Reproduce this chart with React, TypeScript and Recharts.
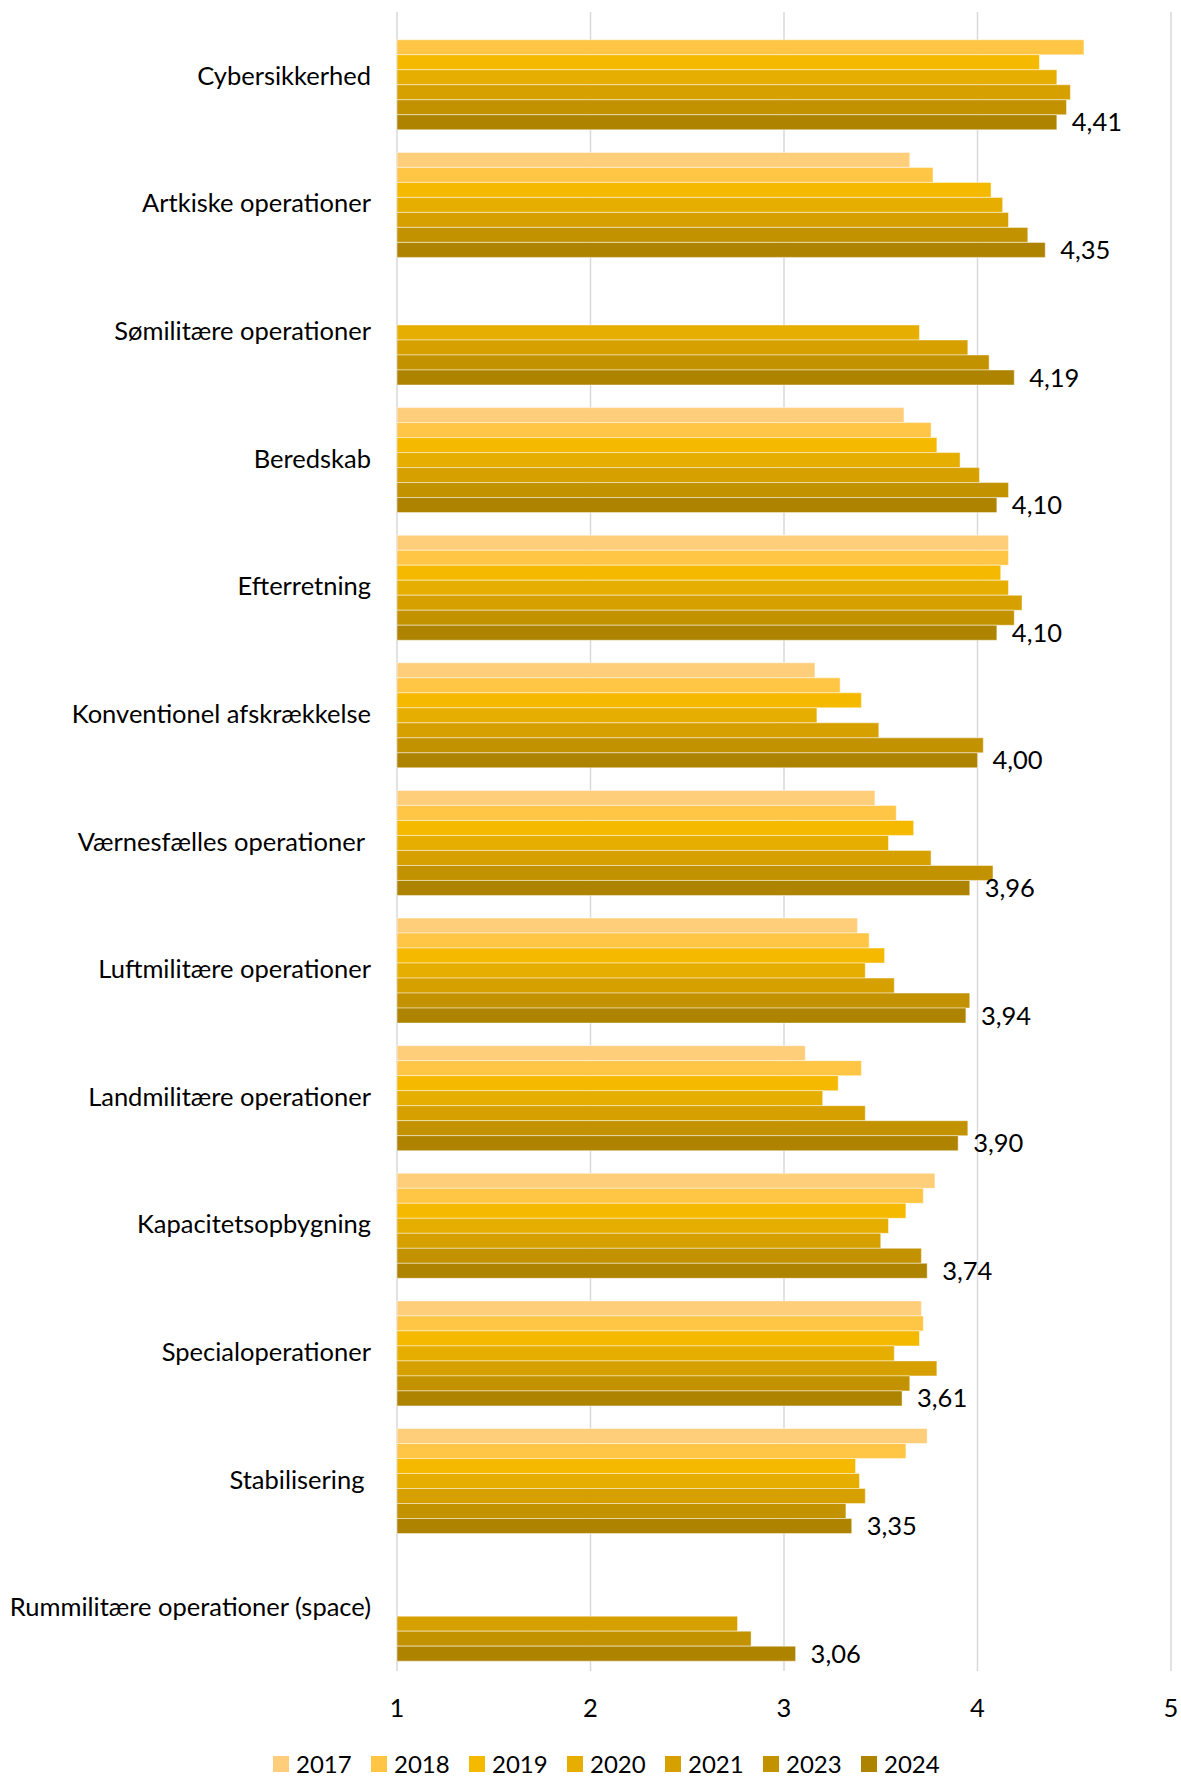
import { Bar, BarChart, CartesianGrid, LabelList, Legend, XAxis, YAxis } from "recharts";

const categories = [
  "Cybersikkerhed",
  "Artkiske operationer",
  "Sømilitære operationer",
  "Beredskab",
  "Efterretning",
  "Konventionel afskrækkelse",
  "Værnesfælles operationer\u00a0",
  "Luftmilitære operationer",
  "Landmilitære operationer",
  "Kapacitetsopbygning",
  "Specialoperationer",
  "Stabilisering\u00a0",
  "Rummilitære operationer (space)",
];

const years = ["2017", "2018", "2019", "2020", "2021", "2023", "2024"];
const colors = ["#FFCE7A", "#FFC545", "#F5BA00", "#E6AE00", "#D6A000", "#C29200", "#AE8300"];

const v2017 = [null, 3.65, null, 3.62, 4.16, 3.16, 3.47, 3.38, 3.11, 3.78, 3.71, 3.74, null];
const v2018 = [4.55, 3.77, null, 3.76, 4.16, 3.29, 3.58, 3.44, 3.4, 3.72, 3.72, 3.63, null];
const v2019 = [4.32, 4.07, null, 3.79, 4.12, 3.4, 3.67, 3.52, 3.28, 3.63, 3.7, 3.37, null];
const v2020 = [4.41, 4.13, 3.7, 3.91, 4.16, 3.17, 3.54, 3.42, 3.2, 3.54, 3.57, 3.39, null];
const v2021 = [4.48, 4.16, 3.95, 4.01, 4.23, 3.49, 3.76, 3.57, 3.42, 3.5, 3.79, 3.42, 2.76];
const v2023 = [4.46, 4.26, 4.06, 4.16, 4.19, 4.03, 4.08, 3.96, 3.95, 3.71, 3.65, 3.32, 2.83];
const v2024 = [4.41, 4.35, 4.19, 4.1, 4.1, 4.0, 3.96, 3.94, 3.9, 3.74, 3.61, 3.35, 3.06];

const xTicks = [1, 2, 3, 4, 5];

const series = [v2017, v2018, v2019, v2020, v2021, v2023, v2024];

const data = categories.map((name, i) => {
  const row: Record<string, string | number | null> = { name };
  years.forEach((y, j) => {
    row[y] = series[j][i];
  });
  return row;
});

const FONT = "Lato, 'Open Sans', sans-serif";
const FS = 25.5;

function renderLegend() {
  return (
    <div style={{ display: "flex", fontFamily: FONT, fontSize: 24, lineHeight: "22px", color: "#000" }}>
      {years.map((y, i) => (
        <div key={y} style={{ display: "flex", alignItems: "center", width: 98 }}>
          <span style={{ display: "inline-block", width: 16, height: 16, background: colors[i], marginRight: 7 }} />
          <span>{y}</span>
        </div>
      ))}
    </div>
  );
}

export default function App() {
  return (
    <div style={{ position: "absolute", left: 0, top: 0, background: "#fff" }}>
      <BarChart
        width={1181}
        height={1776}
        data={data}
        layout="vertical"
        margin={{ top: 12, right: 10, left: 0, bottom: 65 }}
        barCategoryGap="10%"
        barGap={0}
      >
        <CartesianGrid horizontal={false} stroke="#D9D9D9" strokeWidth={1.5} />
        <XAxis
          type="number"
          domain={[1, 5]}
          ticks={xTicks}
          height={40}
          axisLine={false}
          tickLine={false}
          tickMargin={22}
          tick={{ fontSize: FS, fill: "#000", fontFamily: FONT }}
        />
        <YAxis
          type="category"
          dataKey="name"
          width={397}
          axisLine={false}
          tickLine={false}
          tickMargin={20}
          interval={0}
          tick={{ fontSize: FS, fill: "#000", fontFamily: FONT }}
        />
        <Legend
          verticalAlign="middle"
          align="center"
          layout="horizontal"
          content={renderLegend}
          wrapperStyle={{ left: 273, top: 1753, width: 720, height: 22 }}
        />
        {years.map((y, i) => (
          <Bar
            key={y}
            dataKey={y}
            fill={colors[i]}
            stroke="rgba(255,255,255,0.45)"
            strokeWidth={1}
            isAnimationActive={false}
          >
            {y === "2024" && (
              <LabelList
                dataKey={y}
                position="right"
                offset={15}
                formatter={(v: number) => v.toFixed(2).replace(".", ",")}
                style={{ fontSize: FS, fill: "#000", fontFamily: FONT }}
              />
            )}
          </Bar>
        ))}
      </BarChart>
    </div>
  );
}
